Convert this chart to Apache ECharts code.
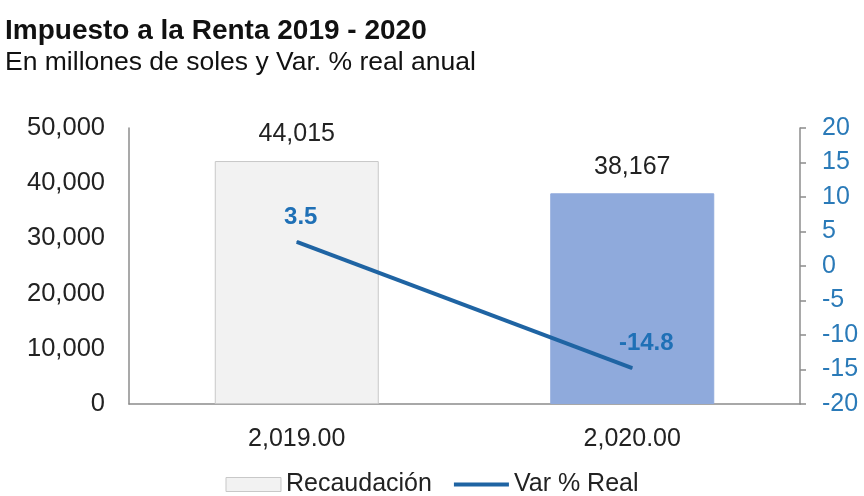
<!DOCTYPE html>
<html>
<head>
<meta charset="utf-8">
<script src="https://cdn.jsdelivr.net/npm/echarts@6/dist/echarts.min.js"></script>
<style>
html,body{margin:0;padding:0;background:#fff;}
#chart{width:864px;height:496px;}
</style>
</head>
<body>
<div id="chart"></div>
<script>
const categories = [2019, 2020];
const recaudacion = [44015, 38167];
const varReal = [3.5, -14.8];
const leftTicks = [0, 10000, 20000, 30000, 40000, 50000];
const rightTicks = [-20, -15, -10, -5, 0, 5, 10, 15, 20];

const FONT = '"Liberation Sans", Arial, sans-serif';
const fmtInt = v => Number(v).toLocaleString('en-US');
const fmtCat = v => Number(v).toLocaleString('en-US', {minimumFractionDigits: 2, maximumFractionDigits: 2});
const barColors = ['#f2f2f2', '#8faadc'];
const barBorders = ['#c8c8c8', '#8faadc'];
const LINE_COLOR = '#1f64a3';

const chart = echarts.init(document.getElementById('chart'));
chart.setOption({
  animation: false,
  textStyle: {fontFamily: FONT},
  title: {
    text: 'Impuesto a la Renta 2019 - 2020',
    subtext: 'En millones de soles y Var. % real anual',
    left: 5, top: 17, itemGap: 4, padding: 0,
    textStyle: {fontFamily: FONT, fontSize: 28, fontWeight: 'bold', color: '#111'},
    subtextStyle: {fontFamily: FONT, fontSize: 26.5, color: '#111'}
  },
  legend: {
    top: 472, left: 'center', padding: 0,
    itemWidth: 55, itemHeight: 14, itemGap: 20,
    textStyle: {fontFamily: FONT, fontSize: 25, color: '#222'},
    data: [
      {name: 'Recaudación', icon: 'rect', itemStyle: {color: '#f2f2f2', borderColor: '#c8c8c8', borderWidth: 1}},
      {name: 'Var % Real', itemStyle: {color: 'rgba(0,0,0,0)', borderColor: 'rgba(0,0,0,0)', borderWidth: 0},
        lineStyle: {color: LINE_COLOR, width: 4}}
    ]
  },
  grid: {left: 129, right: 64, top: 128, bottom: 92, containLabel: false},
  xAxis: {
    type: 'category',
    data: categories,
    axisLine: {lineStyle: {color: '#8c8c8c', width: 1.5}},
    axisTick: {show: false},
    axisLabel: {formatter: fmtCat, fontSize: 25, color: '#222', margin: 23, fontFamily: FONT}
  },
  yAxis: [
    {
      type: 'value', min: leftTicks[0], max: leftTicks[leftTicks.length - 1], interval: 10000,
      axisLine: {show: true, lineStyle: {color: '#8c8c8c', width: 1.5}},
      axisTick: {show: false},
      splitLine: {show: false},
      axisLabel: {formatter: fmtInt, fontSize: 25.5, color: '#222', margin: 24, fontFamily: FONT}
    },
    {
      type: 'value', position: 'right', min: rightTicks[0], max: rightTicks[rightTicks.length - 1], interval: 5,
      axisLine: {show: true, lineStyle: {color: '#8c8c8c', width: 1.5}},
      axisTick: {show: true, length: 6, lineStyle: {color: '#8c8c8c', width: 1.5}},
      splitLine: {show: false},
      axisLabel: {fontSize: 25, color: '#2a7ab8', margin: 22, fontFamily: FONT}
    }
  ],
  series: [
    {
      name: 'Recaudación',
      type: 'bar',
      yAxisIndex: 0,
      barWidth: 164,
      data: recaudacion.map((v, i) => ({
        value: v,
        itemStyle: {color: barColors[i], borderColor: barBorders[i], borderWidth: 1}
      })),
      label: {show: true, position: 'top', distance: 14, formatter: p => fmtInt(p.value),
        fontSize: 25, color: '#222', fontFamily: FONT}
    },
    {
      name: 'Var % Real',
      type: 'line',
      yAxisIndex: 1,
      symbol: 'circle',
      symbolSize: 1,
      showSymbol: true,
      lineStyle: {color: LINE_COLOR, width: 4},
      itemStyle: {color: LINE_COLOR},
      data: varReal.map((v, i) => ({
        value: v,
        label: i === 1 ? {offset: [14, 0]} : {offset: [4, 0]}
      })),
      label: {show: true, position: 'top', distance: 12, formatter: p => p.value,
        fontSize: 24, fontWeight: 'bold', color: '#1f70b6', fontFamily: FONT}
    }
  ]
});
</script>
</body>
</html>
